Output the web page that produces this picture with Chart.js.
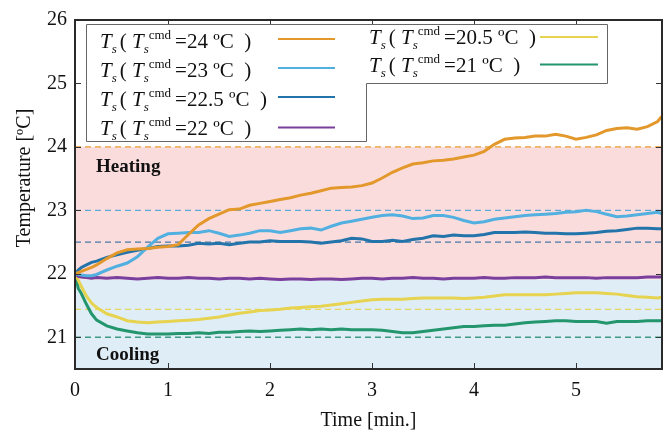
<html>
<head>
<script src="https://cdn.jsdelivr.net/npm/chart.js@4"></script>
<style>
  body { margin: 0; background: #fff; }
</style>
</head>
<body>
<canvas id="tempChart" width="671" height="433"></canvas>
<script>
// time in minutes (logged run starts a little after the axis origin label)
const time = [0.09, 0.12, 0.15, 0.2, 0.25, 0.3,
  0.4, 0.5, 0.6, 0.7, 0.8, 0.9,
  1.0, 1.1, 1.2, 1.3, 1.4, 1.5, 1.6, 1.7, 1.8, 1.9,
  2.0, 2.1, 2.2, 2.3, 2.4, 2.5, 2.6, 2.7, 2.8, 2.9,
  3.0, 3.1, 3.2, 3.3, 3.4, 3.5, 3.6, 3.7, 3.8, 3.9,
  4.0, 4.1, 4.2, 4.3, 4.4, 4.5, 4.6, 4.7, 4.8, 4.9,
  5.0, 5.1, 5.2, 5.3, 5.4, 5.5, 5.6, 5.7, 5.8, 5.84];

// measured supply temperature Ts for each commanded setpoint
const tsCmd24 = [22.0, 22.02, 22.04, 22.07, 22.10, 22.14,
  22.24, 22.33, 22.38, 22.39, 22.40, 22.42,
  22.43, 22.46, 22.62, 22.77, 22.87, 22.94, 23.01, 23.02, 23.08, 23.11,
  23.14, 23.17, 23.20, 23.24, 23.27, 23.31, 23.35, 23.36, 23.37, 23.39,
  23.43, 23.51, 23.60, 23.67, 23.73, 23.75, 23.78, 23.79, 23.81, 23.84,
  23.87, 23.93, 24.04, 24.12, 24.14, 24.15, 24.17, 24.17, 24.20, 24.17,
  24.12, 24.15, 24.19, 24.26, 24.29, 24.30, 24.28, 24.32, 24.40, 24.48];
const tsCmd23 = [22.0, 21.99, 21.98, 21.97, 21.97, 21.99,
  22.06, 22.12, 22.17, 22.27, 22.42, 22.56,
  22.63, 22.64, 22.65, 22.65, 22.68, 22.64, 22.59, 22.61, 22.64, 22.68,
  22.68, 22.65, 22.68, 22.71, 22.72, 22.69, 22.75, 22.80, 22.83, 22.86,
  22.89, 22.92, 22.93, 22.91, 22.87, 22.88, 22.92, 22.92, 22.89, 22.84,
  22.80, 22.82, 22.86, 22.88, 22.90, 22.92, 22.93, 22.94, 22.95, 22.97,
  22.98, 23.00, 22.98, 22.94, 22.90, 22.91, 22.93, 22.95, 22.97, 22.95];
const tsCmd22_5 = [22.0, 22.06, 22.10, 22.14, 22.18, 22.20,
  22.26, 22.30, 22.34, 22.37, 22.40, 22.43,
  22.44, 22.44, 22.45, 22.48, 22.47, 22.48, 22.46, 22.48, 22.50, 22.50,
  22.52, 22.51, 22.51, 22.51, 22.50, 22.48, 22.50, 22.52, 22.56, 22.55,
  22.51, 22.51, 22.53, 22.51, 22.54, 22.56, 22.60, 22.59, 22.61, 22.60,
  22.60, 22.62, 22.65, 22.65, 22.65, 22.66, 22.65, 22.64, 22.64, 22.63,
  22.63, 22.64, 22.65, 22.67, 22.68, 22.70, 22.72, 22.72, 22.71, 22.71];
const tsCmd22 = [22.0, 21.96, 21.95, 21.94, 21.93, 21.94,
  21.93, 21.94, 21.93, 21.92, 21.93, 21.94,
  21.93, 21.93, 21.94, 21.93, 21.93, 21.92, 21.93, 21.93, 21.92, 21.93,
  21.92, 21.91, 21.92, 21.92, 21.91, 21.92, 21.92, 21.91, 21.92, 21.93,
  21.93, 21.92, 21.93, 21.93, 21.94, 21.93, 21.93, 21.92, 21.93, 21.93,
  21.93, 21.94, 21.93, 21.93, 21.94, 21.94, 21.94, 21.95, 21.94, 21.94,
  21.94, 21.94, 21.93, 21.94, 21.94, 21.94, 21.94, 21.95, 21.95, 21.95];
const tsCmd20_5 = [22.0, 21.90, 21.80, 21.65, 21.54, 21.47,
  21.37, 21.32, 21.26, 21.24, 21.23, 21.24,
  21.25, 21.26, 21.27, 21.28, 21.30, 21.32, 21.35, 21.38, 21.40, 21.42,
  21.43, 21.44, 21.46, 21.47, 21.48, 21.49, 21.51, 21.53, 21.55, 21.57,
  21.59, 21.60, 21.60, 21.60, 21.61, 21.62, 21.62, 21.62, 21.62, 21.61,
  21.62, 21.63, 21.65, 21.67, 21.67, 21.67, 21.67, 21.67, 21.68, 21.69,
  21.70, 21.70, 21.70, 21.69, 21.68, 21.66, 21.64, 21.63, 21.62, 21.63];
const tsCmd21 = [22.0, 21.77, 21.69, 21.52, 21.37, 21.27,
  21.18, 21.13, 21.10, 21.07, 21.05, 21.05,
  21.05, 21.06, 21.06, 21.07, 21.06, 21.08, 21.08, 21.09, 21.10, 21.09,
  21.10, 21.11, 21.12, 21.13, 21.12, 21.13, 21.12, 21.13, 21.12, 21.12,
  21.12, 21.11, 21.09, 21.07, 21.07, 21.09, 21.11, 21.13, 21.15, 21.17,
  21.17, 21.18, 21.19, 21.19, 21.21, 21.23, 21.24, 21.25, 21.26, 21.26,
  21.25, 21.25, 21.25, 21.22, 21.25, 21.25, 21.25, 21.26, 21.26, 21.26];

const setpoints = ['24', '23', '22.5', '22', '20.5', '21'];
const seriesColors = ['#e3982b', '#52b0e0', '#2374aa', '#7a3f9d', '#e6d34f', '#23966e'];
const series = [tsCmd24, tsCmd23, tsCmd22_5, tsCmd22, tsCmd20_5, tsCmd21];

// dashed reference levels
const refLevels = [24, 23, 22.5, 21.44, 21];
const refColors = ['#e69a2e', '#5fa9d6', '#4a78a6', '#e8d65e', '#3e9a80'];

// shaded regions
const heatingBand = [21.91, 24];
const coolingBand = [20.5, 21.91];

const xMin = 0.088, xMax = 5.843;
const xTickValues = [xMin, 1, 2, 3, 4, 5];
const xTickLabels = ['0', '1', '2', '3', '4', '5'];
const yTickValues = [21, 22, 23, 24, 25, 26];

const SERIF = '"Liberation Serif", "Times New Roman", serif';

const datasets = series.map((vals, i) => ({
  label: 'Ts (Ts cmd = ' + setpoints[i] + ' ºC)',
  data: vals.map((v, k) => ({ x: time[k], y: v })),
  borderColor: seriesColors[i],
  borderWidth: 3,
  pointRadius: 0,
  tension: 0,
  fill: false
}));
refLevels.forEach((lvl, i) => {
  datasets.push({
    label: 'ref ' + lvl,
    data: [{ x: xMin, y: lvl }, { x: xMax, y: lvl }],
    borderColor: refColors[i],
    borderWidth: 1.3,
    borderDash: [6, 4],
    pointRadius: 0,
    fill: false
  });
});

function drawLegendEntry(ctx, x, base, sp) {
  ctx.textAlign = 'left';
  ctx.textBaseline = 'alphabetic';
  const big = '21px ' + SERIF, bigIt = 'italic 21px ' + SERIF;
  const sub = 'italic 13px ' + SERIF, sup = '13px ' + SERIF;
  ctx.font = bigIt; ctx.fillText('T', x, base); x += ctx.measureText('T').width;
  ctx.font = sub; ctx.fillText('s', x, base + 5); x += ctx.measureText('s').width + 3;
  ctx.font = big; ctx.fillText('( ', x, base); x += ctx.measureText('( ').width;
  ctx.font = bigIt; ctx.fillText('T', x, base); x += ctx.measureText('T').width;
  ctx.font = sub; ctx.fillText('s', x, base + 5);
  ctx.font = sup; ctx.fillText('cmd', x + 5, base - 9); x += 5 + ctx.measureText('cmd').width + 4;
  ctx.font = big; ctx.fillText('=' + sp + ' ºC  )', x, base);
}

const decorations = {
  id: 'decorations',
  beforeDatasetsDraw(chart) {
    const { ctx, chartArea: a, scales: { y } } = chart;
    ctx.save();
    ctx.fillStyle = '#fbdcdd';
    let t = y.getPixelForValue(heatingBand[1]), b = y.getPixelForValue(heatingBand[0]);
    ctx.fillRect(a.left, t, a.width, b - t);
    ctx.fillStyle = '#dfedf6';
    t = y.getPixelForValue(coolingBand[1]); b = y.getPixelForValue(coolingBand[0]);
    ctx.fillRect(a.left, t, a.width, b - t);
    ctx.restore();
  },
  afterDatasetsDraw(chart) {
    const { ctx, chartArea: a, scales: { x, y } } = chart;
    ctx.save();
    ctx.fillStyle = '#111';

    // band captions
    ctx.font = 'bold 19px ' + SERIF;
    ctx.textAlign = 'left';
    ctx.textBaseline = 'alphabetic';
    ctx.fillText('Heating', 96, 172);
    ctx.fillText('Cooling', 96, 360);

    // inward tick marks on all four sides
    ctx.strokeStyle = '#333';
    ctx.lineWidth = 1;
    ctx.beginPath();
    xTickValues.slice(1).forEach(v => {
      const px = Math.round(x.getPixelForValue(v)) + 0.5;
      ctx.moveTo(px, a.bottom); ctx.lineTo(px, a.bottom - 6);
      ctx.moveTo(px, a.top); ctx.lineTo(px, a.top + 6);
    });
    yTickValues.forEach(v => {
      const py = Math.round(y.getPixelForValue(v)) + 0.5;
      ctx.moveTo(a.left, py); ctx.lineTo(a.left + 6, py);
      ctx.moveTo(a.right, py); ctx.lineTo(a.right - 6, py);
    });
    ctx.stroke();

    // plot frame
    ctx.strokeStyle = '#2a2a2a';
    ctx.lineWidth = 2;
    ctx.strokeRect(a.left, a.top, a.width, a.height);

    // axis titles
    ctx.font = '20px ' + SERIF;
    ctx.textAlign = 'center';
    ctx.textBaseline = 'middle';
    ctx.fillText('Time [min.]', (a.left + a.right) / 2, 421);
    ctx.save();
    ctx.translate(25, 178);
    ctx.rotate(-Math.PI / 2);
    ctx.fillText('Temperature [ºC]', 0, 0);
    ctx.restore();

    // legend box (two columns, second one shorter)
    ctx.fillStyle = '#fff';
    ctx.strokeStyle = '#666';
    ctx.lineWidth = 1;
    ctx.beginPath();
    ctx.moveTo(86.5, 24.5);
    ctx.lineTo(607.5, 24.5);
    ctx.lineTo(607.5, 83.5);
    ctx.lineTo(366.5, 83.5);
    ctx.lineTo(366.5, 141.5);
    ctx.lineTo(86.5, 141.5);
    ctx.closePath();
    ctx.fill();
    ctx.stroke();

    const rows = [
      { tx: 100, base: 48, lx: 278, lw: 57, ly: 39 },
      { tx: 100, base: 77, lx: 278, lw: 57, ly: 68 },
      { tx: 100, base: 106, lx: 278, lw: 57, ly: 97 },
      { tx: 100, base: 135, lx: 278, lw: 57, ly: 127.5 },
      { tx: 369, base: 44, lx: 540, lw: 58, ly: 37 },
      { tx: 369, base: 72, lx: 540, lw: 58, ly: 64.5 }
    ];
    rows.forEach((r, i) => {
      ctx.fillStyle = '#111';
      drawLegendEntry(ctx, r.tx, r.base, setpoints[i]);
      ctx.strokeStyle = seriesColors[i];
      ctx.lineWidth = 2;
      ctx.beginPath();
      ctx.moveTo(r.lx, r.ly);
      ctx.lineTo(r.lx + r.lw, r.ly);
      ctx.stroke();
    });
    ctx.restore();
  }
};

new Chart(document.getElementById('tempChart'), {
  type: 'line',
  data: { datasets: datasets },
  options: {
    responsive: false,
    animation: false,
    devicePixelRatio: 1,
    layout: { padding: { top: 16, right: 9, left: 0, bottom: 0 } },
    plugins: { legend: { display: false }, tooltip: { enabled: false } },
    scales: {
      x: {
        type: 'linear',
        min: xMin,
        max: xMax,
        afterBuildTicks: s => { s.ticks = xTickValues.map(v => ({ value: v })); },
        afterFit: s => { s.height = 64; },
        grid: { display: false, drawTicks: false },
        border: { display: false },
        ticks: {
          autoSkip: false,
          maxRotation: 0,
          padding: 10,
          color: '#111',
          font: { family: SERIF, size: 20 },
          callback: (v, i) => xTickLabels[i]
        }
      },
      y: {
        min: 20.5,
        max: 26,
        afterBuildTicks: s => { s.ticks = yTickValues.map(v => ({ value: v })); },
        afterFit: s => { s.width = 75; },
        grid: { display: false, drawTicks: false },
        border: { display: false },
        ticks: {
          padding: 8,
          color: '#111',
          font: { family: SERIF, size: 20 }
        }
      }
    }
  },
  plugins: [decorations]
});
</script>
</body>
</html>
